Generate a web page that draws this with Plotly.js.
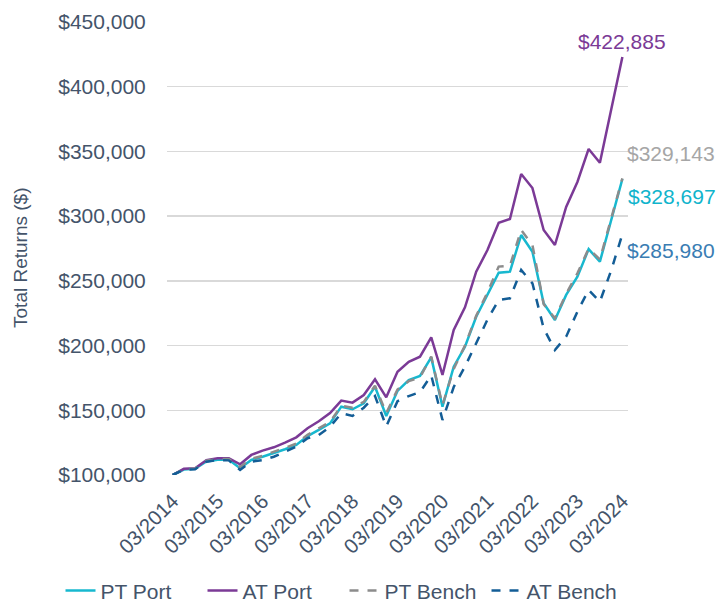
<!DOCTYPE html>
<html>
<head>
<meta charset="utf-8">
<script src="https://cdn.plot.ly/plotly-3.0.1.min.js"></script>
<style>html,body{margin:0;padding:0;background:#fff;}#chart{width:718px;height:600px;}</style>
</head>
<body>
<div id="chart"></div>
<script>
// Quarter-end labels 03/2014 .. 03/2024
const quarters = [
"03/2014","06/2014","09/2014","12/2014",
"03/2015","06/2015","09/2015","12/2015",
"03/2016","06/2016","09/2016","12/2016",
"03/2017","06/2017","09/2017","12/2017",
"03/2018","06/2018","09/2018","12/2018",
"03/2019","06/2019","09/2019","12/2019",
"03/2020","06/2020","09/2020","12/2020",
"03/2021","06/2021","09/2021","12/2021",
"03/2022","06/2022","09/2022","12/2022",
"03/2023","06/2023","09/2023","12/2023",
"03/2024"];
const yearTicks = ["03/2014","03/2015","03/2016","03/2017","03/2018","03/2019","03/2020","03/2021","03/2022","03/2023","03/2024"];

const ptPort = [100000,104200,104800,110500,111800,111800,105200,111600,114100,116800,119900,123200,130100,134800,139900,152800,150800,155400,168200,145600,165000,173400,176500,190900,152800,183700,199100,222300,239000,256300,257100,285400,272500,232700,219800,239100,253200,274500,264800,297000,328697];
const atPort = [100000,104800,105200,111500,112900,112900,108300,115500,118800,121400,125000,129100,136100,141500,147900,157500,155900,161800,173900,160000,179800,187500,191400,206400,177300,212000,229600,257100,273800,294900,297800,332600,321700,289300,277700,307100,326400,351900,341300,383000,422885];
const ptBench = [100000,104400,105000,111000,112300,112300,106200,112500,114800,118000,121000,124200,131000,135800,141000,153500,152000,156500,169000,147700,166000,172500,175500,191500,154000,182000,200000,223000,241000,261000,261700,289300,277700,232000,221000,240000,255800,275000,266500,298000,329143];
const atBench = [100000,104000,104500,110300,111500,111300,103900,110300,111500,114100,118000,121900,128400,130900,137300,147700,145600,152000,161000,137500,157000,161000,164000,177000,142500,168000,183700,201800,220000,235200,236500,258400,248100,213300,196600,206900,226200,243000,233900,258000,285980];

const seriesNames = ["PT Port","AT Port","PT Bench","AT Bench"];
const endLabels = ["$328,697","$422,885","$329,143","$285,980"];

const cPT = "#17b8cf", cAT = "#7b3a96", cPTB = "#8c8c8c", cATB = "#135d96";
const txt = "#44546a";
const FF = "Liberation Sans, Arial, sans-serif";

const traces = [
  {x: quarters, y: ptPort, name: seriesNames[0], type: "scatter", mode: "lines", line: {color: cPT, width: 2.5}},
  {x: quarters, y: atPort, name: seriesNames[1], type: "scatter", mode: "lines", line: {color: cAT, width: 2.5}},
  {x: quarters, y: ptBench, name: seriesNames[2], type: "scatter", mode: "lines", line: {color: cPTB, width: 2.5, dash: "dash"}},
  {x: quarters, y: atBench, name: seriesNames[3], type: "scatter", mode: "lines", line: {color: cATB, width: 2.5, dash: "dash"}}
];

const last = quarters[quarters.length - 1];
const n = ptPort.length - 1;
const annotations = [
  {x: last, y: atPort[n], text: endLabels[1], showarrow: false, xanchor: "center", yanchor: "middle", yshift: 16, font: {size: 21, color: "#7b3a96", family: FF}},
  {x: last, y: ptBench[n], text: endLabels[2], showarrow: false, xanchor: "left", yanchor: "middle", xshift: 3, yshift: 25, font: {size: 21, color: "#a6a6a6", family: FF}},
  {x: last, y: ptPort[n], text: endLabels[0], showarrow: false, xanchor: "left", yanchor: "middle", xshift: 4, yshift: -17, font: {size: 21, color: "#10b4cc", family: FF}},
  {x: last, y: atBench[n], text: endLabels[3], showarrow: false, xanchor: "left", yanchor: "middle", xshift: 3, yshift: -16, font: {size: 21, color: "#3a7db3", family: FF}},
  {xref: "paper", yref: "paper", x: -0.318, y: 0.48, text: "Total Returns ($)", showarrow: false, textangle: -90, xanchor: "center", yanchor: "middle", font: {size: 19, color: txt, family: FF}}
];

const layout = {
  width: 718, height: 600,
  margin: {l: 167, r: 90, t: 22, b: 125, autoexpand: false},
  paper_bgcolor: "#fff", plot_bgcolor: "#fff",
  font: {family: FF, size: 21, color: txt},
  showlegend: true,
  legend: {orientation: "h", x: -0.231, xanchor: "left", y: -0.256, yanchor: "middle", font: {size: 21, color: txt}, tracegroupgap: 0, entrywidth: 97, entrywidthmode: "pixels"},
  xaxis: {
    type: "category", categoryorder: "array", categoryarray: quarters,
    range: [-0.5, quarters.length - 0.5], automargin: false,
    tickmode: "array", tickvals: yearTicks, ticktext: yearTicks,
    tickangle: -45, showgrid: false, zeroline: false, showline: false,
    ticks: "outside", ticklen: 5, tickcolor: "rgba(0,0,0,0)",
    tickfont: {size: 20.5, color: txt}
  },
  yaxis: {
    range: [100000, 450000], dtick: 50000, tick0: 100000, automargin: false,
    tickformat: ",.0f", tickprefix: "$",
    showgrid: true, gridcolor: "#d9d9d9", gridwidth: 1.5,
    zeroline: false, showline: false,
    ticks: "outside", ticklen: 16, tickcolor: "rgba(0,0,0,0)",
    tickfont: {size: 21, color: txt}
  },
  annotations: annotations
};

Plotly.newPlot("chart", traces, layout, {displayModeBar: false, staticPlot: true});
</script>
</body>
</html>
